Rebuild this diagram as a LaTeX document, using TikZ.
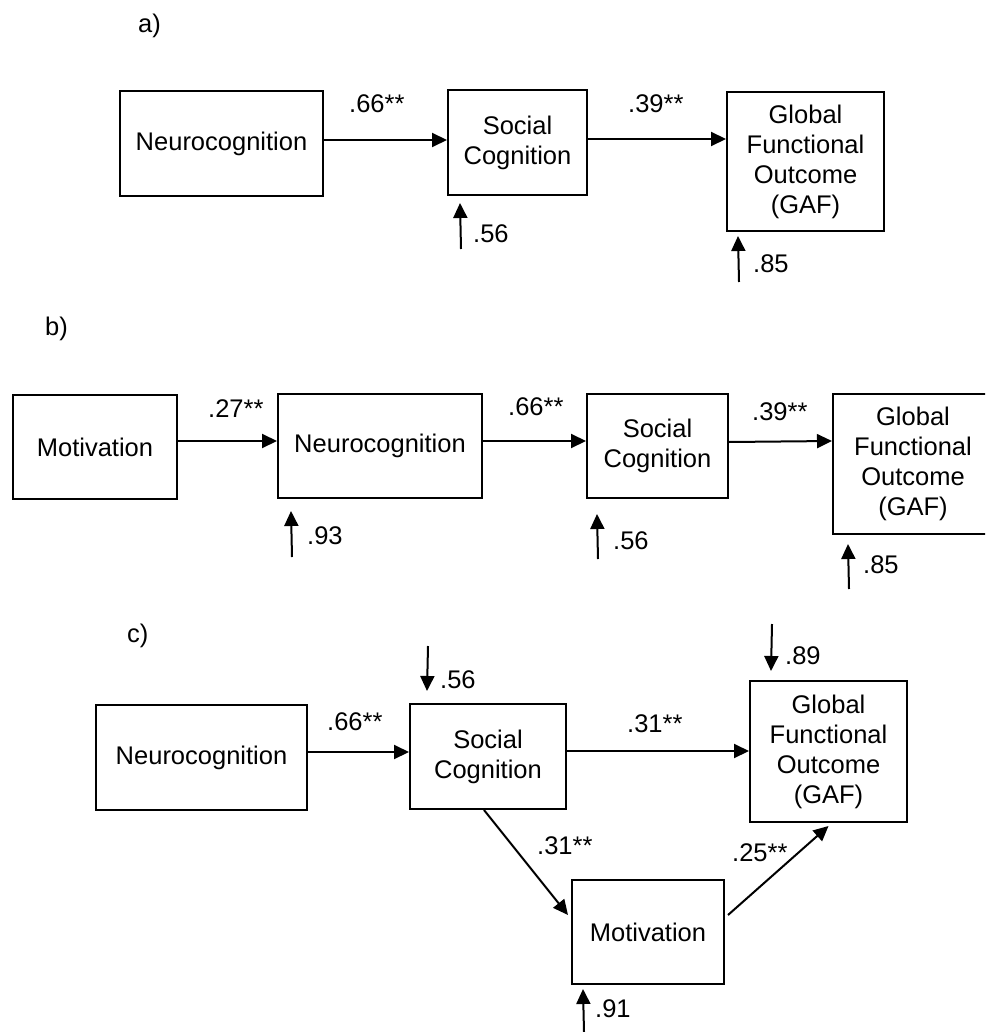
\documentclass[tikz,border=0pt]{standalone}
\usepackage{fontspec}
\setmainfont{Liberation Sans}
\usetikzlibrary{arrows.meta}
\begin{document}
\begin{tikzpicture}[x=1pt,y=-1pt,
  box/.style={draw, line width=2pt, inner sep=0pt, align=center, font=\fontsize{25.5}{30}\selectfont},
  lbl/.style={anchor=base west, inner sep=0pt, font=\fontsize{25.5}{30}\selectfont},
  arr/.style={line width=2pt, -{Triangle[length=15pt,width=14pt]}}]
\useasboundingbox (0,0) rectangle (985,1032);
\begin{scope}
\clip (0,0) rectangle (985,1032);
% ---------- a)
\node[lbl] (la) at (138,33) {a)};
\node[box, minimum width=203pt, minimum height=105pt] (neuA) at (221.5,143.5) {Neurocognition};
\node[box, minimum width=139pt, minimum height=105pt] (socA) at (517.5,142.5) {Social\\Cognition};
\node[box, minimum width=157pt, minimum height=139pt] (gafA) at (805.5,161.5) {Global\\Functional\\Outcome\\(GAF)};
\draw[arr] ([yshift=3.5pt]neuA.east) -- ([yshift=2.5pt]socA.west);
\draw[arr] ([yshift=3.5pt]socA.east) -- ([yshift=22.5pt]gafA.west);
\node[lbl] (a1) at (349,113) {.66**};
\node[lbl] (a2) at (628,113) {.39**};
\coordinate (ea1) at (461,249);
\draw[arr] (ea1) -- ([xshift=13pt,yshift=-7pt]socA.south west);
\node[lbl] (a3) at (473,242) {.56};
\coordinate (ea2) at (739,282);
\draw[arr] (ea2) -- ([xshift=12pt,yshift=-4pt]gafA.south west);
\node[lbl] (a4) at (753,272) {.85};
% ---------- b)
\node[lbl] (lb) at (45,335) {b)};
\node[box, minimum width=164pt, minimum height=104pt] (motB) at (95,447) {Motivation};
\node[box, minimum width=204pt, minimum height=104pt] (neuB) at (380,446) {Neurocognition};
\node[box, minimum width=141pt, minimum height=104pt] (socB) at (657.5,446) {Social\\Cognition};
\node[box, minimum width=160pt, minimum height=140pt] (gafB) at (913,464) {Global\\Functional\\Outcome\\(GAF)};
\draw[arr] ([yshift=6pt]motB.east) -- ([yshift=5pt]neuB.west);
\draw[arr] ([yshift=5pt]neuB.east) -- ([yshift=5pt]socB.west);
\draw[arr] ([yshift=4pt]socB.east) -- ([yshift=23pt]gafB.west);
\node[lbl] (b1) at (208,417) {.27**};
\node[lbl] (b2) at (508,415) {.66**};
\node[lbl] (b3) at (752,420) {.39**};
\coordinate (eb1) at (292,557);
\draw[arr] (eb1) -- ([xshift=14pt,yshift=-12pt]neuB.south west);
\node[lbl] (b4) at (307,544) {.93};
\coordinate (eb2) at (598,559);
\draw[arr] (eb2) -- ([xshift=11pt,yshift=-15pt]socB.south west);
\node[lbl] (b5) at (613,549) {.56};
\coordinate (eb3) at (849,589);
\draw[arr] (eb3) -- ([xshift=16pt,yshift=-9pt]gafB.south west);
\node[lbl] (b6) at (863,573) {.85};
% ---------- c)
\node[lbl] (lc) at (127,642) {c)};
\node[box, minimum width=211pt, minimum height=105pt] (neuC) at (201.5,757.5) {Neurocognition};
\node[box, minimum width=156pt, minimum height=105pt] (socC) at (488,756.5) {Social\\Cognition};
\node[box, minimum width=157pt, minimum height=141pt] (gafC) at (828.5,751.5) {Global\\Functional\\Outcome\\(GAF)};
\node[box, minimum width=152pt, minimum height=104pt] (motC) at (648,932) {Motivation};
\draw[arr] ([yshift=5.5pt]neuC.east) -- ([yshift=4.5pt]socC.west);
\draw[arr] ([yshift=5.5pt]socC.east) -- ([yshift=0.5pt]gafC.west);
\draw[arr] ([xshift=-4pt]socC.south) -- ([xshift=-3pt,yshift=17pt]motC.west);
\draw[arr] ([xshift=3pt,yshift=17pt]motC.east) -- ([yshift=-3pt]gafC.south);
\node[lbl] (c1) at (327,730) {.66**};
\node[lbl] (c2) at (627,732) {.31**};
\node[lbl] (c3) at (537,854) {.31**};
\node[lbl] (c4) at (732,861) {.25**};
\coordinate (ec1) at (428,646);
\draw[arr] (ec1) -- ([xshift=18pt,yshift=12pt]socC.north west);
\node[lbl] (c5) at (440,688) {.56};
\coordinate (ec2) at (772,624);
\draw[arr] (ec2) -- ([xshift=22pt,yshift=9pt]gafC.north west);
\node[lbl] (c6) at (785,664) {.89};
\coordinate (ec3) at (584,1032);
\draw[arr] (ec3) -- ([xshift=12pt,yshift=-4pt]motC.south west);
\node[lbl] (c7) at (595,1017) {.91};
\end{scope}
\end{tikzpicture}
\end{document}
